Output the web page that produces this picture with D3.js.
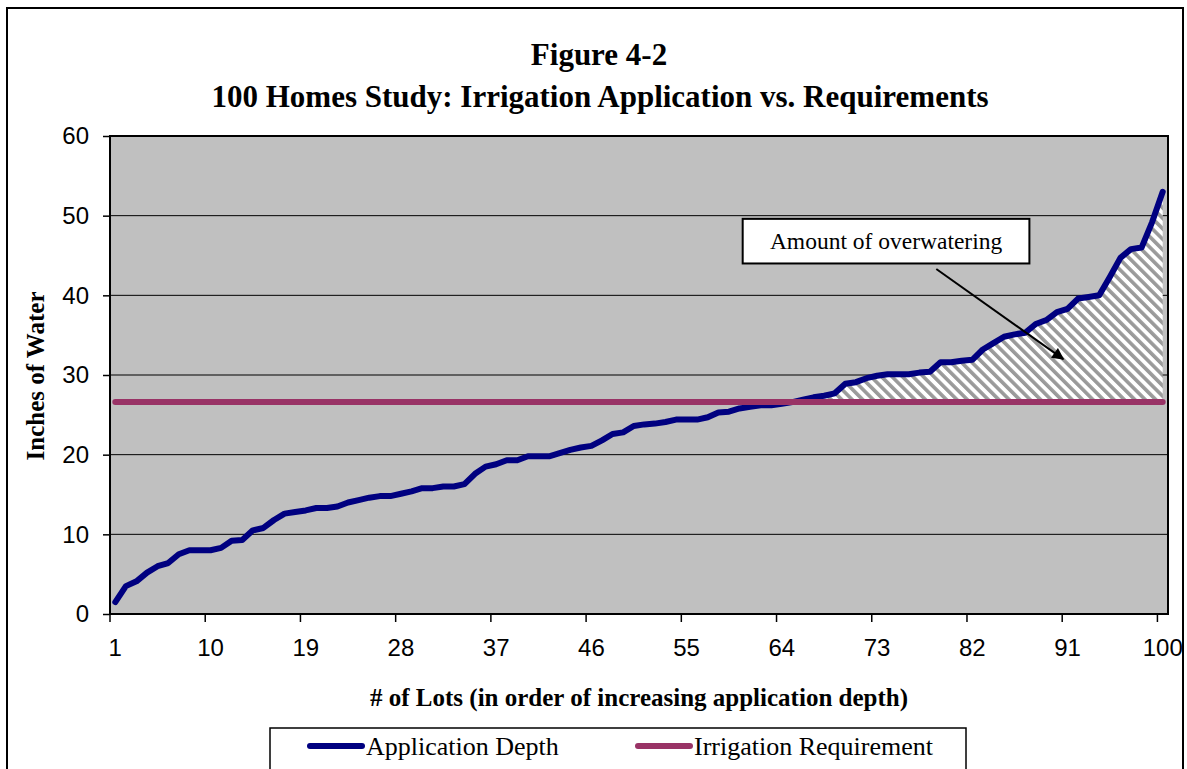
<!DOCTYPE html>
<html>
<head>
<meta charset="utf-8">
<script src="https://cdn.jsdelivr.net/npm/d3@7/dist/d3.min.js"></script>
<style>
  body { margin: 0; background: #fff; }
  svg { display: block; }
</style>
</head>
<body>
<div id="vis"></div>
<script>
// chart values
var lots = d3.range(1, 101);
var applicationDepth = [
  1.5, 3.5, 4.1, 5.2, 6.0, 6.4, 7.5, 8.0, 8.0, 8.0,
  8.3, 9.2, 9.3, 10.5, 10.8, 11.8, 12.6, 12.8, 13.0, 13.3,
  13.3, 13.5, 14.0, 14.3, 14.6, 14.8, 14.8, 15.1, 15.4, 15.8,
  15.8, 16.0, 16.0, 16.3, 17.6, 18.5, 18.8, 19.3, 19.3, 19.8,
  19.8, 19.8, 20.2, 20.6, 20.9, 21.1, 21.8, 22.6, 22.8, 23.6,
  23.8, 23.9, 24.1, 24.4, 24.4, 24.4, 24.7, 25.3, 25.4, 25.8,
  26.0, 26.2, 26.2, 26.4, 26.6, 26.9, 27.2, 27.4, 27.7, 28.9,
  29.1, 29.6, 29.9, 30.1, 30.1, 30.1, 30.3, 30.4, 31.6, 31.6,
  31.8, 31.9, 33.2, 34.0, 34.8, 35.1, 35.3, 36.4, 36.9, 37.9,
  38.3, 39.6, 39.8, 40.0, 42.3, 44.7, 45.8, 46.0, 49.2, 53.0
];
var irrigationRequirement = 26.6;
var xTickLabels = [1, 10, 19, 28, 37, 46, 55, 64, 73, 82, 91, 100];
var yTickLabels = [0, 10, 20, 30, 40, 50, 60];

var width = 1187;
var height = 769;

var plot = { left: 110, right: 1168, top: 136, bottom: 614 };
var serif = '"Liberation Serif", "Times New Roman", serif';

var svg = d3.select("#vis")
    .append("svg")
    .attr("width", width)
    .attr("height", height);

// hatch for the overwatering area
var defs = svg.append("defs");
var pat = defs.append("pattern")
    .attr("id", "hatch")
    .attr("patternUnits", "userSpaceOnUse")
    .attr("width", 7.4)
    .attr("height", 7.4)
    .attr("patternTransform", "rotate(-45)");
pat.append("rect").attr("width", 7.4).attr("height", 7.4).attr("fill", "#fff");
pat.append("rect").attr("width", 3.6).attr("height", 7.4).attr("fill", "#9a9a9a");

// outer frame
svg.append("rect")
    .attr("x", 7).attr("y", 8)
    .attr("width", 1176).attr("height", 800)
    .attr("fill", "#fff")
    .attr("stroke", "#000")
    .attr("stroke-width", 2);

// titles
svg.append("text")
    .attr("x", 599).attr("y", 65)
    .attr("text-anchor", "middle")
    .style("font-family", serif)
    .style("font-weight", "bold")
    .style("font-size", "31px")
    .text("Figure 4-2");
svg.append("text")
    .attr("x", 600).attr("y", 107)
    .attr("text-anchor", "middle")
    .style("font-family", serif)
    .style("font-weight", "bold")
    .style("font-size", "31px")
    .text("100 Homes Study: Irrigation Application vs. Requirements");

// scales
var xscale = d3.scaleBand()
    .domain(lots)
    .range([plot.left, plot.right])
    .padding(0);
var xc = function(d) { return xscale(d) + xscale.bandwidth() / 2; };
var yscale = d3.scaleLinear()
    .domain([0, 60])
    .range([plot.bottom, plot.top]);

// plot background
svg.append("rect")
    .attr("x", plot.left).attr("y", plot.top)
    .attr("width", plot.right - plot.left)
    .attr("height", plot.bottom - plot.top)
    .attr("fill", "#c0c0c0");

// gridlines
svg.append("g")
    .selectAll("line")
    .data(yTickLabels.slice(1, -1))
    .enter()
    .append("line")
    .attr("x1", plot.left).attr("x2", plot.right)
    .attr("y1", function(d) { return yscale(d); })
    .attr("y2", function(d) { return yscale(d); })
    .attr("stroke", "#000")
    .attr("stroke-width", 1);

var data = lots.map(function(d, i) {
    return { lot: d, depth: applicationDepth[i], req: irrigationRequirement };
});

// overwatering area
var area = d3.area()
    .x(function(d) { return xc(d.lot); })
    .y0(function(d) { return yscale(d.req); })
    .y1(function(d) { return yscale(Math.max(d.depth, d.req)); });
svg.append("path")
    .datum(data)
    .attr("d", area)
    .attr("fill", "url(#hatch)");

// application depth line
var depthLine = d3.line()
    .x(function(d) { return xc(d.lot); })
    .y(function(d) { return yscale(d.depth); });
svg.append("path")
    .datum(data)
    .attr("d", depthLine)
    .attr("fill", "none")
    .attr("stroke", "#000080")
    .attr("stroke-width", 6)
    .attr("stroke-linejoin", "round")
    .attr("stroke-linecap", "round");

// requirement line
var reqLine = d3.line()
    .x(function(d) { return xc(d.lot); })
    .y(function(d) { return yscale(d.req); });
svg.append("path")
    .datum(data)
    .attr("d", reqLine)
    .attr("fill", "none")
    .attr("stroke", "#993366")
    .attr("stroke-width", 6)
    .attr("stroke-linecap", "round");

// plot border
svg.append("rect")
    .attr("x", plot.left).attr("y", plot.top)
    .attr("width", plot.right - plot.left)
    .attr("height", plot.bottom - plot.top)
    .attr("fill", "none")
    .attr("stroke", "#000")
    .attr("stroke-width", 2);

// axes
var yaxis = d3.axisLeft(yscale)
    .tickValues(yTickLabels)
    .tickSize(7)
    .tickPadding(14);
var gy = svg.append("g")
    .attr("transform", "translate(" + plot.left + ",0)")
    .call(yaxis);

var xaxis = d3.axisBottom(xscale)
    .tickValues(xTickLabels)
    .tickSize(8)
    .tickPadding(17);
var gx = svg.append("g")
    .attr("transform", "translate(0," + plot.bottom + ")")
    .call(xaxis);
// tick marks sit on category edges, labels stay centred
gx.selectAll(".tick line")
    .attr("transform", "translate(" + (-xscale.bandwidth() / 2) + ",0)");

[gx, gy].forEach(function(g) {
    g.select(".domain").remove();
    g.selectAll(".tick line").attr("stroke", "#000").attr("stroke-width", 1.5);
    g.selectAll(".tick text")
        .attr("fill", "#000")
        .style("font-family", '"Liberation Sans", Arial, sans-serif')
        .style("font-size", "24px");
});

// axis titles
svg.append("text")
    .attr("x", 639).attr("y", 706)
    .attr("text-anchor", "middle")
    .style("font-family", serif)
    .style("font-weight", "bold")
    .style("font-size", "25px")
    .text("# of Lots (in order of increasing application depth)");

svg.append("text")
    .attr("transform", "translate(44," + 376 + ") rotate(-90)")
    .attr("text-anchor", "middle")
    .style("font-family", serif)
    .style("font-weight", "bold")
    .style("font-size", "25px")
    .text("Inches of Water");

// annotation box and arrow (placed in data units)
var note = { lot0: 60.3, lot1: 87.4, top: 49.6, bottom: 44.0 };
var toX = d3.scaleLinear().domain([0.5, 100.5]).range([plot.left, plot.right]);
svg.append("rect")
    .attr("x", toX(note.lot0))
    .attr("y", yscale(note.top))
    .attr("width", toX(note.lot1) - toX(note.lot0))
    .attr("height", yscale(note.bottom) - yscale(note.top))
    .attr("fill", "#fff")
    .attr("stroke", "#000")
    .attr("stroke-width", 2);
svg.append("text")
    .attr("x", (toX(note.lot0) + toX(note.lot1)) / 2)
    .attr("y", yscale((note.top + note.bottom) / 2) + 8)
    .attr("text-anchor", "middle")
    .style("font-family", serif)
    .style("font-size", "23.5px")
    .text("Amount of overwatering");

defs.append("marker")
    .attr("id", "arrow")
    .attr("viewBox", "0 0 10 10")
    .attr("refX", 9).attr("refY", 5)
    .attr("markerWidth", 7).attr("markerHeight", 6)
    .attr("markerUnits", "strokeWidth")
    .attr("orient", "auto")
    .append("path")
    .attr("d", "M0,0 L10,5 L0,10 z")
    .attr("fill", "#000");
svg.append("line")
    .attr("x1", toX(78.6)).attr("y1", yscale(43.3))
    .attr("x2", toX(90.6)).attr("y2", yscale(32.0))
    .attr("stroke", "#000")
    .attr("stroke-width", 2)
    .attr("marker-end", "url(#arrow)");

// legend
var legendItems = [
    { name: "Application Depth", color: "#000080", x: 310 },
    { name: "Irrigation Requirement", color: "#993366", x: 638 }
];
svg.append("rect")
    .attr("x", 270).attr("y", 728)
    .attr("width", 696).attr("height", 60)
    .attr("fill", "#fff")
    .attr("stroke", "#000")
    .attr("stroke-width", 1.5);
var leg = svg.selectAll(".legend")
    .data(legendItems)
    .enter()
    .append("g")
    .attr("class", "legend");
leg.append("line")
    .attr("x1", function(d) { return d.x; })
    .attr("x2", function(d) { return d.x + 52; })
    .attr("y1", 746).attr("y2", 746)
    .attr("stroke", function(d) { return d.color; })
    .attr("stroke-width", 6)
    .attr("stroke-linecap", "round");
leg.append("text")
    .attr("x", function(d) { return d.x + 56; })
    .attr("y", 755)
    .style("font-family", serif)
    .style("font-size", "26px")
    .text(function(d) { return d.name; });
</script>
</body>
</html>
